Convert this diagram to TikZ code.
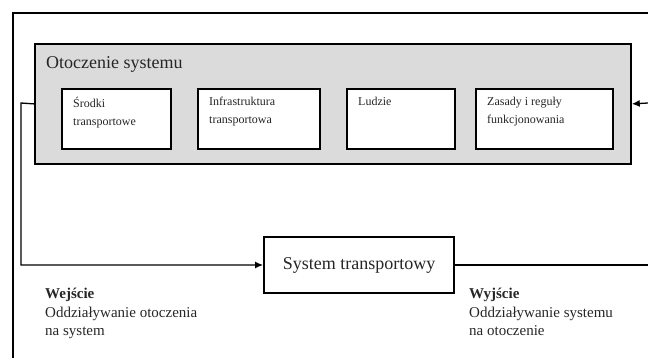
\documentclass[tikz,border=0pt]{standalone}
\usepackage{fontspec}
\setmainfont{Liberation Serif}
\usepackage{xcolor}
\usetikzlibrary{arrows.meta}
\colorlet{envGray}{black!14}
\colorlet{textGray}{black!85}

\tikzset{
  frameline/.style={line width=1.8pt},
  conn/.style={line width=1.3pt},
  tip/.style={-{Latex[length=8pt,width=7pt]}},
  envbox/.style={draw, line width=1.8pt, fill=envGray, anchor=north west,
    minimum width=596pt, minimum height=120pt, inner sep=0pt},
  partbox/.style={draw, line width=2.4pt, fill=white, anchor=north west,
    minimum height=60pt, inner sep=0pt},
  parttext/.style={anchor=north west, align=left, inner sep=0pt, text=textGray,
    font=\fontsize{12}{18}\selectfont, xshift=12pt, yshift=-9pt},
  sysbox/.style={draw, line width=1.8pt, fill=white, minimum width=190pt,
    minimum height=56pt, inner sep=0pt, font=\fontsize{18}{21}\selectfont},
  iotext/.style={anchor=north west, align=left, inner sep=0pt, text=textGray,
    font=\fontsize{15}{18.5}\selectfont}
}

\begin{document}
\begin{tikzpicture}[x=1pt, y=-1pt]
  \useasboundingbox (0,0) rectangle (648,358);

  % outer frame, cut by the page edge
  \coordinate (frameTR) at (648,13);
  \coordinate (frameTL) at (13,13);
  \coordinate (frameBL) at (13,358);
  \draw[frameline] (frameTR) -- (frameTL) -- (frameBL);

  % environment
  \node[envbox] (otoczenie) at (34,43) {};
  \node[anchor=north west, inner sep=0pt, text=textGray,
        font=\fontsize{18}{21}\selectfont] (otoczenieTitle)
        at ([xshift=12pt, yshift=-13pt]otoczenie.north west) {Otoczenie systemu};

  \node[partbox, minimum width=109pt] (srodki) at (61,88) {};
  \node[partbox, minimum width=122pt] (infra)  at (197,88) {};
  \node[partbox, minimum width=108pt] (ludzie) at (346,88) {};
  \node[partbox, minimum width=137pt] (zasady) at (475,88) {};

  \node[parttext] (srodkiText) at (srodki.north west) {Środki\\transportowe};
  \node[parttext] (infraText)  at (infra.north west)  {Infrastruktura\\transportowa};
  \node[parttext] (ludzieText) at (ludzie.north west) {Ludzie};
  \node[parttext] (zasadyText) at (zasady.north west) {Zasady i reguły\\funkcjonowania};

  % system
  \node[sysbox, text=textGray] (system) at (359,265) {System transportowy};

  % connectors
  \coordinate (inRight) at (648,103);
  \coordinate (outRight) at (648,265);
  \coordinate (loopLeft) at (21,103);
  \draw[conn, tip] (inRight) -- (otoczenie.east);
  \draw[conn, tip] (otoczenie.west) -- (loopLeft) |- (system.west);
  \draw[conn] (system.east) -- (outRight);

  \node[iotext] (wejscie) at (45,288) {\textbf{Wejście}\\Oddziaływanie otoczenia\\na system};
  \node[iotext] (wyjscie) at (469,288) {\textbf{Wyjście}\\Oddziaływanie systemu\\na otoczenie};
\end{tikzpicture}
\end{document}
